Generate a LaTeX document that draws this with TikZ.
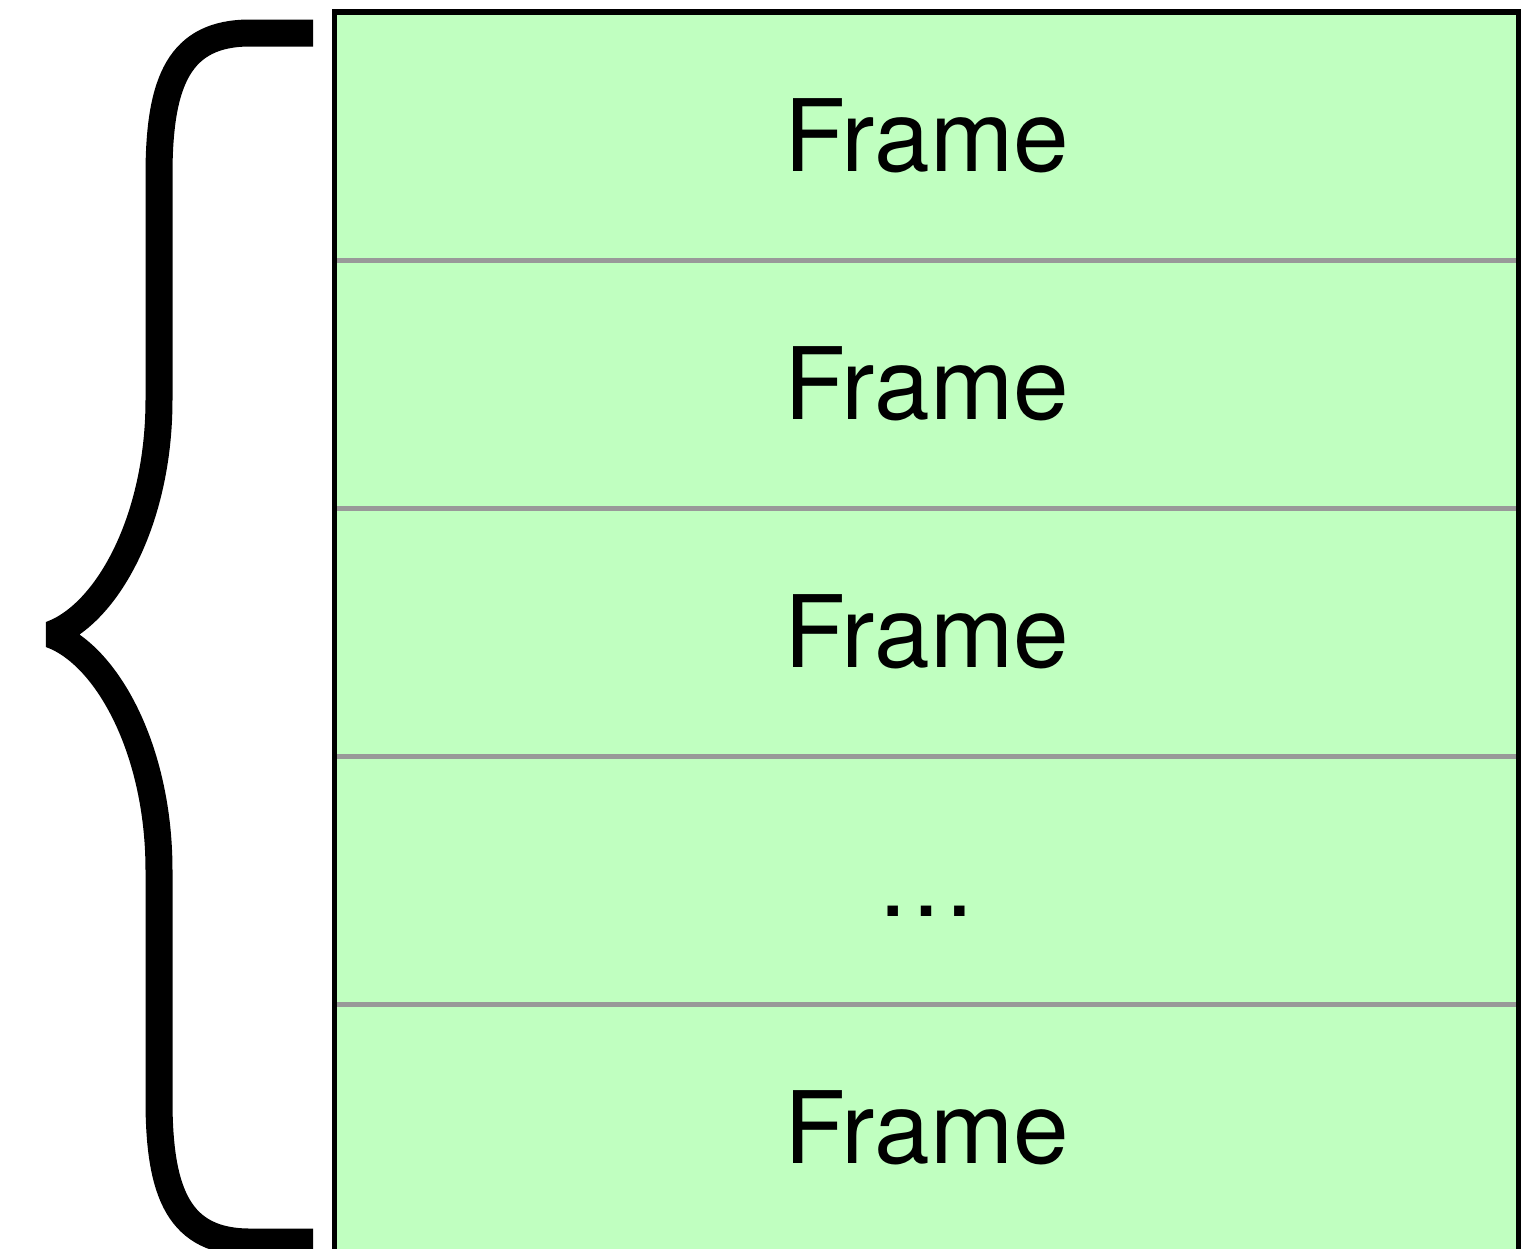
\documentclass[tikz,border=0pt]{standalone}
\usepackage{fontspec}
\setmainfont{TeX Gyre Heros}
\definecolor{rowfill}{HTML}{C0FFC0}
\definecolor{divider}{HTML}{999999}
\tikzset{
  framerow/.style={rectangle, fill=rowfill, draw=none, inner sep=0pt,
    minimum width=1184pt, minimum height=248pt,
    font=\fontsize{100}{120}\selectfont},
  rowline/.style={draw=divider, line width=5pt},
  outline/.style={draw=black, line width=5.5pt},
  bracestroke/.style={draw=black, line width=27pt, line join=bevel, line cap=butt}
}
\begin{document}
\begin{tikzpicture}[x=1pt, y=-1pt]
  \useasboundingbox (0,0) rectangle (1533,1248);

  % stacked frames
  \node[framerow] (r1) at (926.5,136)  {Frame};
  \node[framerow] (r2) at (926.5,384)  {Frame};
  \node[framerow] (r3) at (926.5,632)  {Frame};
  \node[framerow] (r4) at (926.5,880)  {\vphantom{F}…};
  \node[framerow] (r5) at (926.5,1128) {Frame};

  % separators between frames
  \foreach \n in {r1,r2,r3,r4}
    \draw[rowline] (\n.south west) -- (\n.south east);

  % outer border of the stack
  \draw[outline] (r1.north west) rectangle (r5.south east);

  % curly brace on the left
  \coordinate (btop) at (313,33);
  \coordinate (btip) at (51,634.5);
  \coordinate (bbot) at (313,1242);
  \draw[bracestroke] (btop) -- (250,33)
      .. controls (180,33) and (159,80) .. (159,175)
      -- (159,400)
      .. controls (159,520) and (107,614) .. (btip)
      .. controls (107,655) and (159,750) .. (159,870)
      -- (159,1100)
      .. controls (159,1195) and (180,1242) .. (250,1242)
      -- (bbot);
\end{tikzpicture}
\end{document}
